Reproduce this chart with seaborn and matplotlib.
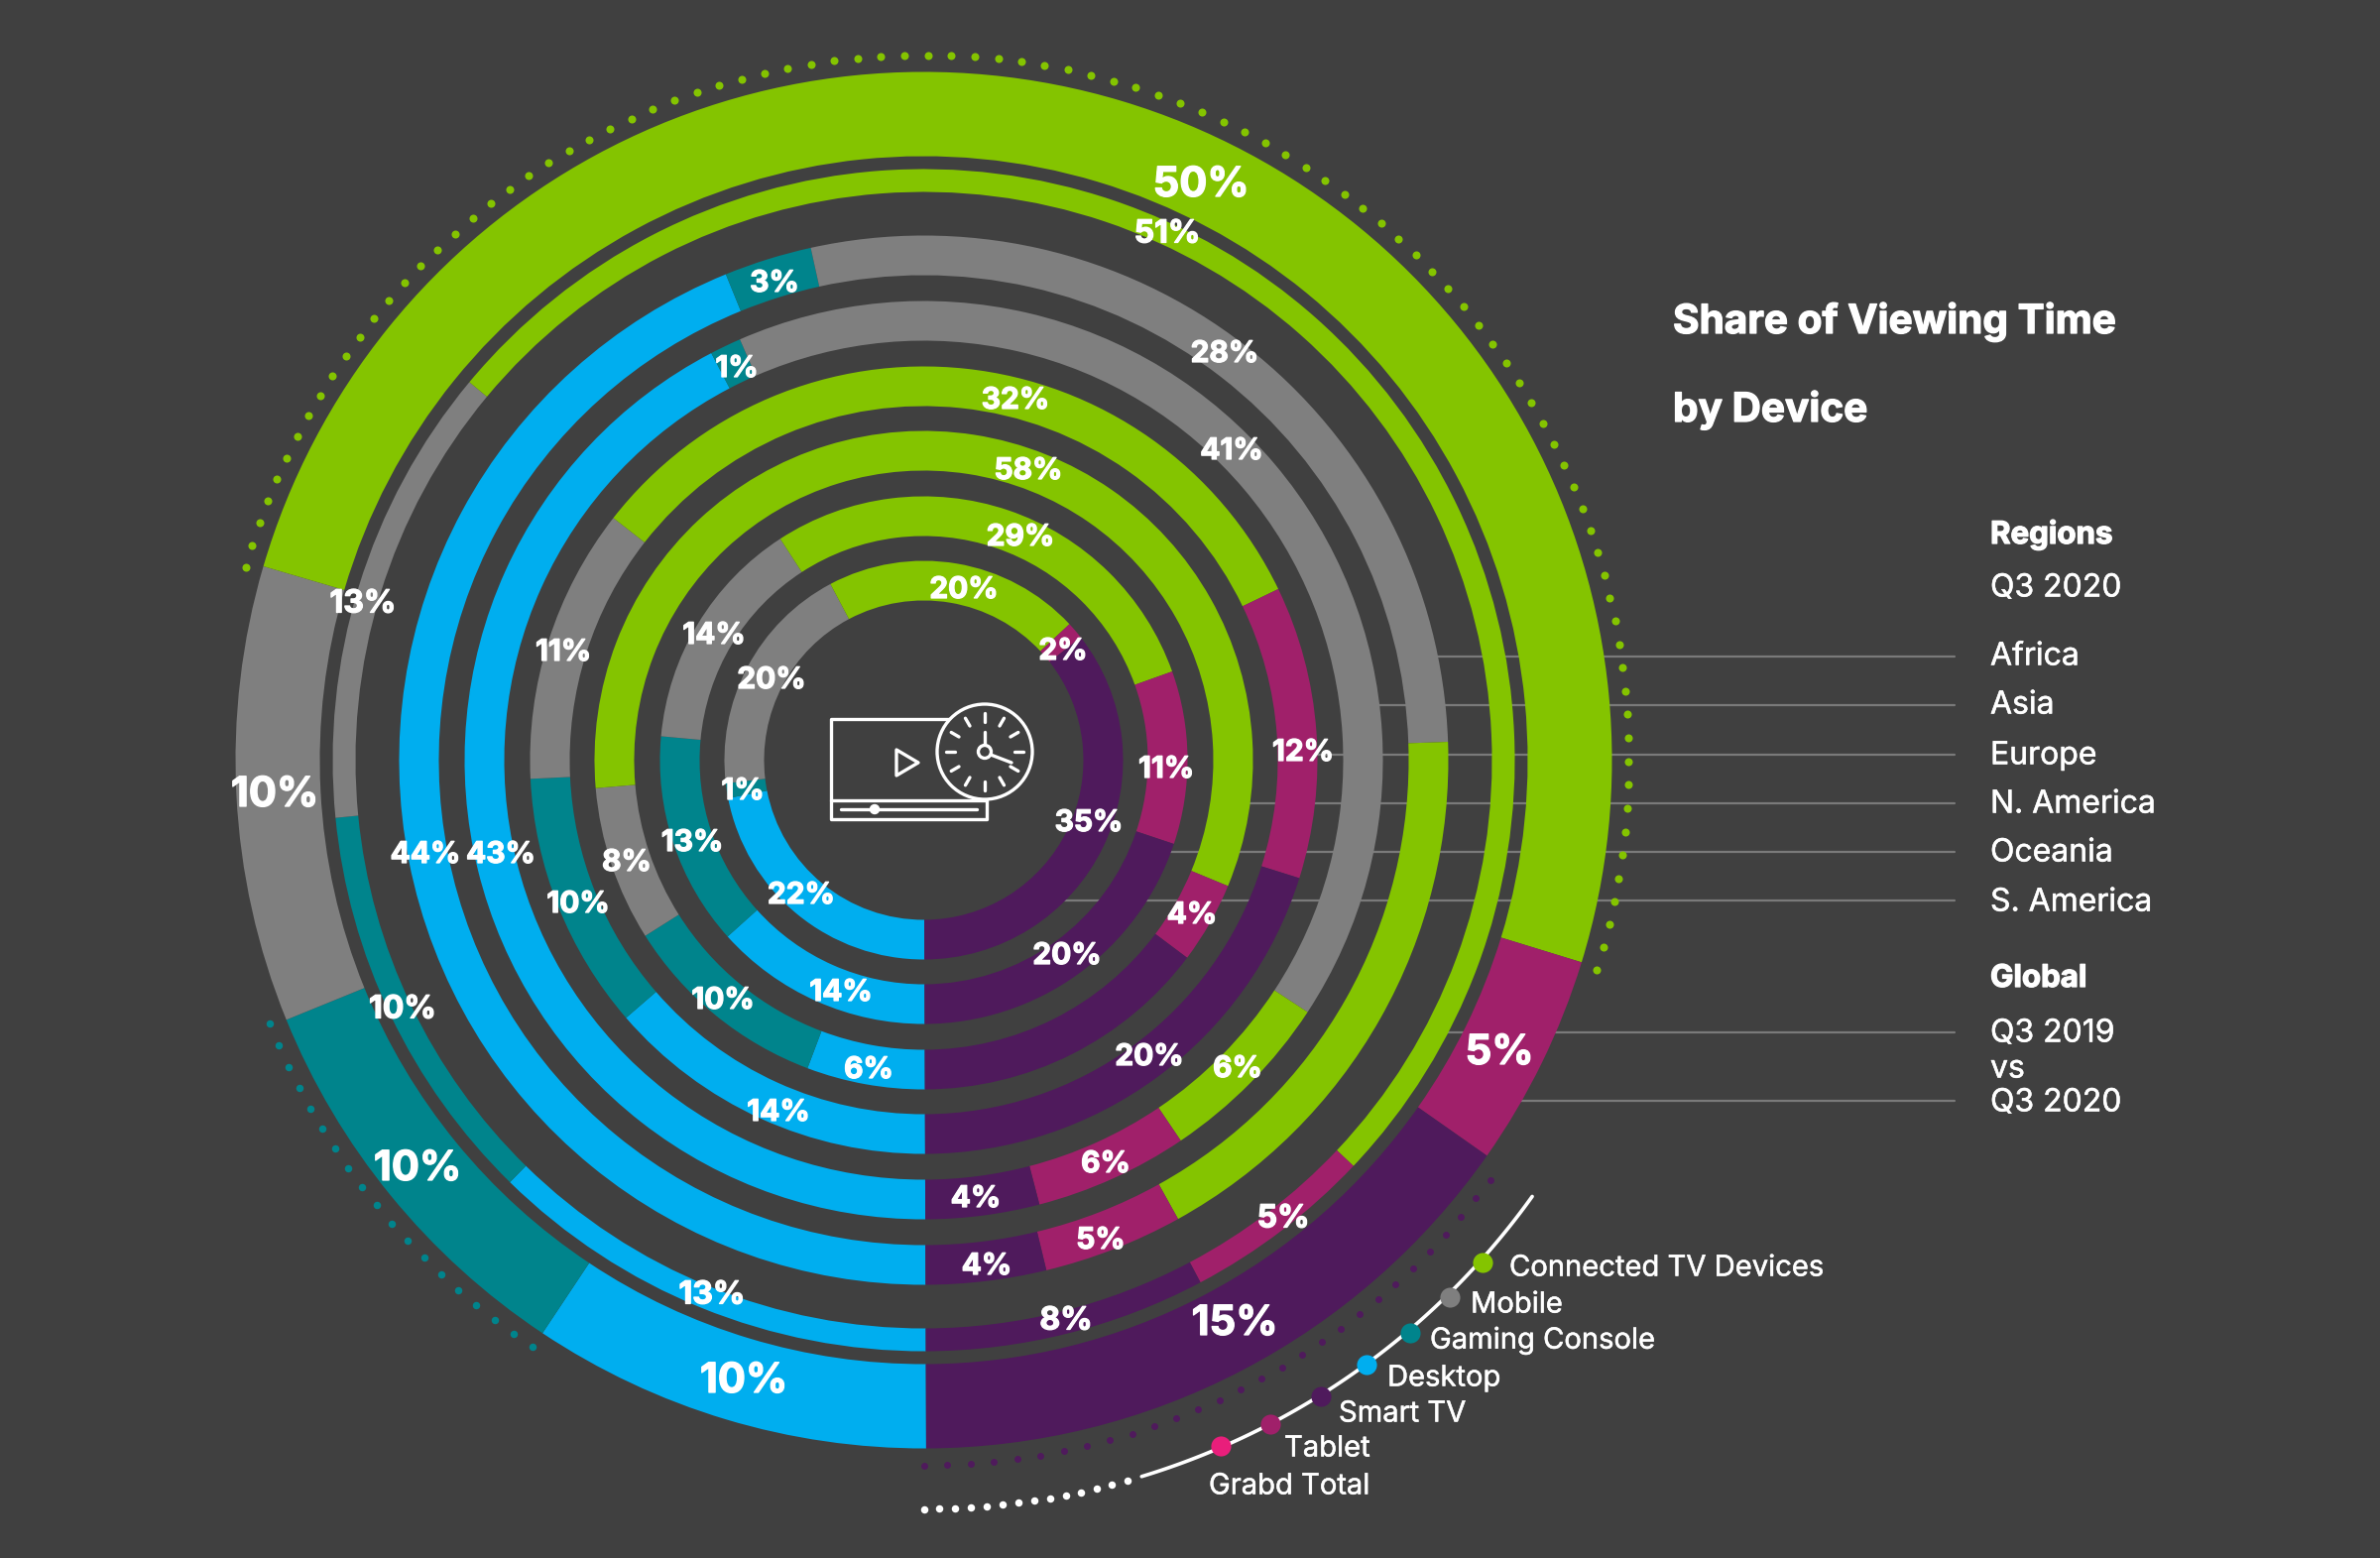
import numpy as np
import matplotlib.pyplot as plt
import matplotlib.patheffects as pe
import seaborn as sns
from matplotlib.patches import Circle, Rectangle, Polygon

# order round each ring, clockwise from 6 o'clock
devices = ['Desktop', 'Gaming Console', 'Mobile', 'Connected TV Devices', 'Tablet', 'Smart TV']
device_colors = ['#00AEEF', '#00848C', '#7F7F7F', '#84C400', '#A0206A', '#4F1A5C']

# shares as measured off the arcs
q3_2020 = [9.4, 9.5, 10.7, 50.2, 5.0, 15.2]
q3_2019 = [12.4, 11.1, 12.6, 51.0, 5.2, 7.7]
africa = [43.9, 2.7, 27.9, 17.5, 4.3, 3.7]
asia = [42.4, 1.1, 40.8, 6.3, 5.4, 4.0]
europe = [13.7, 10.6, 11.3, 32.3, 12.0, 20.1]
n_america = [5.8, 10.3, 7.6, 57.6, 4.0, 14.7]
oceania = [13.4, 13.1, 14.4, 28.7, 10.6, 19.8]
s_america = [22.0, 1.2, 19.1, 20.8, 1.4, 35.5]

# the percentages as printed on the chart (None = not printed)
q3_2020_labels = [10, 10, 10, 50, 5, 15]
q3_2019_labels = [13, 10, 13, 51, 5, 8]
africa_labels = [44, 3, 28, None, 5, 4]
asia_labels = [43, 1, 41, 6, 6, 4]
europe_labels = [14, 10, 11, 32, 12, 20]
n_america_labels = [6, 10, 8, 58, 4, None]
oceania_labels = [14, 13, 14, 29, 11, 20]
s_america_labels = [22, 1, 20, 20, 2, 35]

region_names = ['Africa', 'Asia', 'Europe', 'N. America', 'Oceania', 'S. America']
legend_names = ['Connected TV Devices', 'Mobile', 'Gaming Console', 'Desktop', 'Smart TV', 'Tablet', 'Grabd Total']
legend_colors = ['#84C400', '#7F7F7F', '#00848C', '#00AEEF', '#4F1A5C', '#A0206A', '#E91E7B']

BG = '#404040'
CX, CY = 931.5, 766.5

# ring values, printed labels, outer/inner radius, label size, and where each label sits
rings = [
    (q3_2020, q3_2020_labels, 694, 609, 30, [(750, 1390), (421, 1176), (277, 799), (1211, 184), (1512, 1059), (1245, 1332)]),
    (q3_2019, q3_2019_labels, 596, 573, 23, [(718, 1303), (406, 1015), (366, 606), (1177, 233), (1294, 1226), (1075, 1329)]),
    (africa, africa_labels, 529, 489, 21.5, [(429, 859), (781, 283), (1235, 354), None, (1110, 1248), (995, 1274)]),
    (asia, asia_labels, 463, 423, 21.5, [(505, 859), (743, 369), (1242, 452), (1248, 1075), (1115, 1171), (984, 1206)]),
    (europe, europe_labels, 397, 357, 21.5, [(785, 1119), (583, 909), (568, 655), (1024, 401), (1314, 756), (1159, 1063)]),
    (n_america, n_america_labels, 332, 292, 21.5, [(876, 1076), (729, 1006), (632, 867), (1037, 472), (1202, 920), None]),
    (oceania, oceania_labels, 266, 226, 21.5, [(848, 998), (698, 847), (720, 638), (1029, 539), (1176, 773), (1076, 961)]),
    (s_america, s_america_labels, 201, 161, 21.5, [(808, 900), (749, 795), (778, 683), (972, 592), (1072, 654), (1098, 827)]),
]


def polar(frac, r):
    a = np.pi / 2 + 2 * np.pi * np.asarray(frac)
    return CX + r * np.cos(a), CY + r * np.sin(a)


def dotted(start, end, color, ms, r=711, gap=23.7):
    fr = np.arange(end, start, -gap / (2 * np.pi * r))
    x, y = polar(fr, r)
    ax.plot(x, y, 'o', color=color, ms=ms, mew=0, zorder=2)


sns.set_theme(style='white', rc={'figure.facecolor': BG, 'savefig.facecolor': BG, 'axes.facecolor': BG})
plt.rcParams['font.family'] = ['Inter', 'DejaVu Sans']
palette = sns.color_palette(device_colors)
heavy = [pe.withStroke(linewidth=0.9, foreground='white')]
medium = [pe.withStroke(linewidth=0.35, foreground='white')]

fig = plt.figure(figsize=(24, 15.71), dpi=100)
ax = fig.add_axes([0, 0, 1, 1])

for values, labels, r_out, r_in, size, spots in rings:
    ax.pie(values, colors=palette, radius=r_out, center=(CX, CY), startangle=89.8, counterclock=True,
           wedgeprops=dict(width=r_out - r_in, linewidth=0, zorder=3))
    for lab, spot in zip(labels, spots):
        if lab is not None:
            ax.text(spot[0], spot[1] + 3, f'{lab}%', color='white', fontsize=size, fontweight='bold',
                    ha='center', va='center', zorder=6, path_effects=heavy)

ax.set_xlim(0, 2400)
ax.set_ylim(1571, 0)
ax.set_axis_off()

# dotted arcs around the outer ring
shares = np.cumsum(q3_2020) / sum(q3_2020)
dotted(shares[2] - 0.004, shares[3], device_colors[3], 5.8)
dotted(shares[0] - 0.003, shares[1], device_colors[1], 5.4)
dotted(shares[4], 1.0, device_colors[5], 5)

# leader lines, hidden behind the rings
line_y = [662, 711, 761, 810, 859, 908, 1041, 1110]
line_r = [r[2] for r in rings[2:]] + [rings[1][2], rings[0][2]]
for y, r in zip(line_y, line_r):
    x0 = CX + np.sqrt(r ** 2 - (y - CY) ** 2)
    ax.plot([x0 - 3, 1971], [y, y], color='#7A7A7A', lw=1.6, zorder=1)


def label(x, y, s, size=23, bold=False):
    ax.text(x, y + 3, s, color='white', fontsize=size, fontweight='bold' if bold else 'normal', va='center',
            path_effects=heavy if bold else medium)


# titles and region text
label(1687, 321, 'Share of Viewing Time', size=29.2, bold=True)
label(1687, 410, 'by Device', size=29.2, bold=True)
label(2007, 536, 'Regions', bold=True, size=22.5)
label(2007, 590, 'Q3 2020')
for name, y in zip(region_names, [659, 708, 759, 808, 857, 907]):
    label(2007, y, name)
label(2007, 984, 'Global', bold=True, size=22.5)
for name, y in zip(['Q3 2019', 'vs', 'Q3 2020'], [1039, 1075, 1109]):
    label(2007, y, name)

# legend strung along a white arc
arc = np.linspace(0.047, 0.151, 120)
x, y = polar(1 - arc, 755)
ax.plot(x, y, color='white', lw=2.6, zorder=3, solid_capstyle='round')
fr = np.arange(0, 0.046, 16 / (2 * np.pi * 755))
x, y = polar(1 - fr, 755)
ax.plot(x, y, 'o', color='white', ms=5.4, mew=0, zorder=3)

dot_xy = [(1495, 1273), (1462, 1308), (1422, 1344), (1378, 1376), (1332, 1408), (1281, 1436), (1231, 1458)]
text_xy = [(1522, 1276), (1483, 1313), (1442, 1349), (1399, 1387), (1350, 1423), (1295, 1458), (1219, 1496)]
for name, color, d, t in zip(legend_names, legend_colors, dot_xy, text_xy):
    ax.plot(d[0], d[1], 'o', color=color, ms=14.5, mew=0, zorder=4)
    label(t[0], t[1], name, size=21)

# centre icon
lw = 2.4
ax.add_patch(Rectangle((838, 725), 157, 101, fill=False, ec='white', lw=lw, joinstyle='round', zorder=4))
ax.plot([838, 995], [807, 807], color='white', lw=lw, zorder=4)
ax.plot([848, 985], [816, 816], color='white', lw=lw, zorder=4)
ax.add_patch(Circle((882, 816), 4.5, color='white', zorder=4))
ax.add_patch(Polygon([(904, 756), (904, 782), (926, 769)], fill=False, ec='white', lw=lw, joinstyle='round', zorder=4))
ax.add_patch(Circle((993, 758), 48, fc=BG, ec='white', lw=lw, zorder=5))
for a in np.arange(12) * np.pi / 6:
    ax.plot([993 + 30 * np.cos(a), 993 + 39 * np.cos(a)], [758 + 30 * np.sin(a), 758 + 39 * np.sin(a)],
            color='white', lw=lw, solid_capstyle='round', zorder=6)
ax.plot([993, 993], [751, 738], color='white', lw=lw, zorder=6)
ax.plot([999, 1020], [761, 769], color='white', lw=lw, solid_capstyle='round', zorder=6)
ax.add_patch(Circle((993, 758), 6.5, fc=BG, ec='white', lw=lw, zorder=6))

fig.savefig('out.png', dpi=100)
